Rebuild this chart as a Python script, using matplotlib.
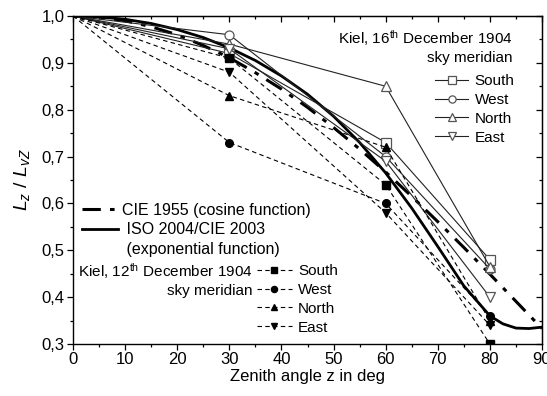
import matplotlib
matplotlib.use("Agg")
from matplotlib import pyplot as plt
from matplotlib.lines import Line2D

plt.rcParams['font.family'] = ['Liberation Sans', 'DejaVu Sans']
plt.rcParams['mathtext.fontset'] = 'custom'
plt.rcParams['mathtext.rm'] = 'Liberation Sans'
plt.rcParams['mathtext.it'] = 'Liberation Sans:italic'

# measured zenith angles
z_meas = [0, 30, 60, 80]

# Kiel, 16th December 1904 (open markers, solid lines)
dec16_south = [1.0, 0.92, 0.73, 0.48]
dec16_west = [1.0, 0.96, 0.70, 0.46]
dec16_north = [1.0, 0.94, 0.85, 0.465]
dec16_east = [1.0, 0.93, 0.69, 0.40]

# Kiel, 12th December 1904 (filled markers, dashed lines)
dec12_south = [1.0, 0.91, 0.64, 0.30]
dec12_west = [1.0, 0.73, 0.60, 0.36]
dec12_north = [1.0, 0.83, 0.72, 0.35]
dec12_east = [1.0, 0.88, 0.58, 0.34]

# model curves
z_model = [0, 5, 10, 15, 20, 25, 30, 35, 40, 45, 50, 55, 60, 65, 70, 75,
           80, 82.5, 85, 87.5, 90]
cie1955 = [1.0, 0.997, 0.990, 0.977, 0.960, 0.937, 0.911, 0.879, 0.844,
           0.805, 0.762, 0.716, 0.667, 0.615, 0.561, 0.506, 0.449, 0.420,
           0.391, 0.362, 0.333]
iso2004 = [1.0, 0.998, 0.993, 0.984, 0.971, 0.954, 0.932, 0.905, 0.872,
           0.833, 0.786, 0.730, 0.665, 0.590, 0.508, 0.424, 0.360, 0.343,
           0.334, 0.333, 0.336]

directions = ["South", "West", "North", "East"]
markers = ["s", "o", "^", "v"]

fig = plt.figure(figsize=(5.47, 3.96), dpi=100)
ax = fig.add_axes([0.1335, 0.1313, 0.8574, 0.8283])

cie_line, = ax.plot(z_model, cie1955, color="black", lw=2.2,
                    dashes=(6, 3, 1.5, 3))
iso_line, = ax.plot(z_model, iso2004, color="black", lw=2.0)

h16 = []
for vals, m in zip([dec16_south, dec16_west, dec16_north, dec16_east], markers):
    ln, = ax.plot(z_meas, vals, color="#222222", lw=0.8, marker=m, ms=6.5,
                  mfc="white", mec="#555555", mew=0.9, markevery=[1, 2, 3])
    h16.append(ln)

h12 = []
for vals, m in zip([dec12_south, dec12_west, dec12_north, dec12_east], markers):
    ln, = ax.plot(z_meas, vals, color="black", lw=0.8, dashes=(4, 3),
                  marker=m, ms=5.5, mfc="black", mec="black",
                  markevery=[1, 2, 3])
    h12.append(ln)

ax.set_xlim(0, 90)
ax.set_ylim(0.3, 1.0)
ax.set_xticks(range(0, 91, 10))
ax.set_xticks(range(5, 90, 10), minor=True)
yt = [0.3, 0.4, 0.5, 0.6, 0.7, 0.8, 0.9, 1.0]
ax.set_yticks(yt)
ax.set_yticklabels([f"{v:.1f}".replace(".", ",") for v in yt])
ax.set_yticks([0.35, 0.45, 0.55, 0.65, 0.75, 0.85, 0.95], minor=True)
ax.tick_params(which="both", direction="out", labelsize=12, width=0.9)
ax.tick_params(which="major", length=4, pad=2)
ax.tick_params(which="minor", length=2.5)
for s in ax.spines.values():
    s.set_linewidth(1.0)

top = ax.secondary_xaxis("top")
top.set_xticks(range(0, 91, 10))
top.set_xticks(range(5, 90, 10), minor=True)
top.tick_params(which="both", direction="in", labeltop=False, width=0.9)
top.tick_params(which="major", length=4)
top.tick_params(which="minor", length=2.5)
right = ax.secondary_yaxis("right")
right.set_yticks(yt)
right.set_yticks([0.35, 0.45, 0.55, 0.65, 0.75, 0.85, 0.95], minor=True)
right.tick_params(which="both", direction="in", labelright=False, width=0.9)
right.tick_params(which="major", length=4)
right.tick_params(which="minor", length=2.5)

ax.set_xlabel("Zenith angle z in deg", fontsize=12, labelpad=1)
ax.set_ylabel("$L_z$ / $L_{vZ}$", fontsize=14, labelpad=7)

fs = 11
ax.text(0.938, 0.933, "Kiel, 16$^{\\rm th}$ December 1904", transform=ax.transAxes,
        ha="right", va="center", fontsize=fs)
ax.text(0.938, 0.872, "sky meridian", transform=ax.transAxes,
        ha="right", va="center", fontsize=fs)
leg16 = ax.legend(h16, directions, loc="upper left",
                  bbox_to_anchor=(0.772, 0.823), frameon=False, fontsize=fs,
                  handlelength=2.15, handletextpad=0.45, labelspacing=0.32,
                  borderpad=0, borderaxespad=0, markerscale=0.8)
ax.add_artist(leg16)

blank = Line2D([], [], color="none")
leg_m = ax.legend([cie_line, iso_line, blank],
                  ["CIE 1955 (cosine function)", " ISO 2004/CIE 2003",
                   " (exponential function)"],
                  loc="upper left", bbox_to_anchor=(0.0186, 0.43),
                  frameon=False, fontsize=11.5, handlelength=2.3,
                  handletextpad=0.2, labelspacing=0.28, borderpad=0,
                  borderaxespad=0)
ax.add_artist(leg_m)

ax.legend(h12, directions, loc="upper left", bbox_to_anchor=(0.392, 0.244),
          frameon=False, fontsize=fs, handlelength=2.3, handletextpad=0.4,
          labelspacing=0.32, borderpad=0, borderaxespad=0, markerscale=0.8)

ax.text(0.382, 0.221, "Kiel, 12$^{\\rm th}$ December 1904", transform=ax.transAxes,
        ha="right", va="center", fontsize=fs)
ax.text(0.382, 0.163, "sky meridian", transform=ax.transAxes,
        ha="right", va="center", fontsize=fs)

fig.savefig("out.png", dpi=100)
plt.close(fig)
